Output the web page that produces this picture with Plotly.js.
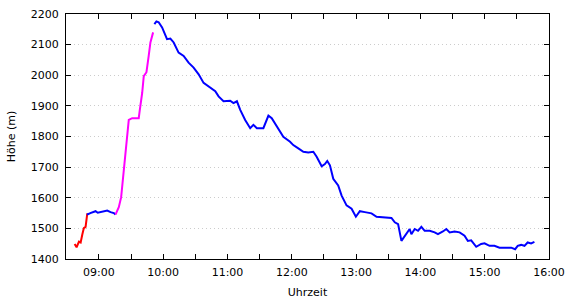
<!DOCTYPE html>
<html>
<head>
<meta charset="utf-8">
<script src="https://cdn.plot.ly/plotly-3.0.1.min.js"></script>
<style>html,body{margin:0;padding:0;background:#fff;}#chart{width:570px;height:300px;}</style>
</head>
<body>
<div id="chart"></div>
<script>
var DAY = "2024-06-01 ";

var redTimes = ["08:37:24","08:39:12","08:41:24","08:43:00","08:44:36","08:46:00","08:47:36","08:48:36","08:49:12"];
var redAlt   = [1449,1438,1457,1454,1481,1501,1505,1542,1549];

var blue1Times = ["08:49:12","08:49:48","08:52:00","08:55:18","08:56:54","08:59:00","09:01:36","09:04:30","09:07:48","09:10:54","09:14:00","09:15:30"];
var blue1Alt   = [1549,1546,1550,1553,1556,1551,1553,1555,1558,1553,1550,1545];

var magentaTimes = ["09:15:30","09:18:36","09:20:48","09:22:42","09:24:48","09:27:00","09:27:54","09:31:06","09:37:12","09:38:12","09:40:24","09:41:54","09:44:24","09:46:30","09:48:06","09:50:36"];
var magentaAlt   = [1545,1569,1602,1668,1745,1821,1854,1860,1860,1887,1942,1997,2010,2063,2107,2140];

var blue2Times = ["09:51:48","09:53:42","09:55:48","09:59:00","10:03:36","10:06:42","10:09:48","10:14:24","10:19:06","10:23:42","10:28:24","10:33:06","10:37:42","10:43:54","10:48:36","10:51:42","10:56:18","11:02:30","11:05:36","11:08:48","11:11:54","11:16:30","11:21:12","11:24:12","11:27:24","11:33:30","11:38:12","11:41:18","11:46:00","11:52:06","11:58:24","12:01:24","12:06:06","12:10:48","12:15:24","12:20:06","12:23:12","12:27:54","12:30:54","12:33:06","12:35:36","12:38:42","12:43:18","12:46:30","12:51:06","12:55:48","12:59:48","13:03:30","13:08:12","13:14:24","13:19:06","13:25:12","13:33:00","13:36:06","13:39:12","13:42:18","13:45:24","13:48:30","13:50:00","13:51:36","13:54:42","13:57:48","14:00:54","14:04:00","14:08:42","14:13:18","14:16:24","14:21:00","14:24:12","14:27:18","14:31:54","14:36:36","14:41:12","14:44:18","14:47:24","14:52:06","14:56:42","14:59:48","15:04:30","15:09:06","15:13:48","15:20:00","15:24:42","15:28:24","15:30:48","15:34:00","15:37:06","15:40:06","15:43:18","15:46:24"];
var blue2Alt   = [2167,2176,2173,2156,2118,2120,2107,2074,2063,2041,2025,2003,1975,1959,1948,1931,1915,1917,1909,1915,1887,1854,1827,1838,1827,1827,1868,1860,1834,1799,1783,1772,1761,1750,1748,1750,1734,1703,1710,1720,1706,1662,1640,1607,1575,1564,1538,1556,1553,1549,1538,1536,1534,1520,1514,1459,1476,1492,1498,1481,1498,1492,1505,1492,1492,1487,1481,1490,1498,1487,1490,1487,1476,1459,1461,1440,1449,1451,1443,1443,1437,1437,1437,1432,1443,1446,1443,1454,1451,1456];

function full(arr){ return arr.map(function(t){ return DAY + t; }); }

var lineW = 2;
var traces = [
  {x: full(redTimes), y: redAlt, mode: "lines", line: {color: "#ff0000", width: lineW}, hoverinfo: "skip"},
  {x: full(blue1Times), y: blue1Alt, mode: "lines", line: {color: "#0000ff", width: lineW}, hoverinfo: "skip"},
  {x: full(magentaTimes), y: magentaAlt, mode: "lines", line: {color: "#ff00ff", width: lineW}, hoverinfo: "skip"},
  {x: full(blue2Times), y: blue2Alt, mode: "lines", line: {color: "#0000ff", width: lineW}, hoverinfo: "skip"}
];

var fnt = {family: "DejaVu Sans, Verdana, sans-serif", size: 11, color: "#000"};

var layout = {
  width: 570, height: 300,
  margin: {l: 66, r: 21, t: 14, b: 41, pad: 0},
  paper_bgcolor: "#fff", plot_bgcolor: "#fff",
  showlegend: false,
  font: fnt,
  xaxis: {
    type: "date",
    range: [DAY + "08:29:20", DAY + "16:00:00"],
    tickformat: "%H:%M",
    tick0: DAY + "09:00:00",
    dtick: 3600000,
    ticks: "inside", ticklen: 5, tickcolor: "#000", tickwidth: 1,
    minor: {dtick: 1800000, tick0: DAY + "09:00:00", ticks: "inside", ticklen: 5, tickcolor: "#000", showgrid: false},
    showline: true, linecolor: "#000", linewidth: 1, mirror: "ticks",
    showgrid: false, zeroline: false,
    tickfont: fnt,
    ticklabelstandoff: 3,
    title: {text: "Uhrzeit", font: fnt, standoff: 10},
    automargin: false
  },
  yaxis: {
    range: [1400, 2200],
    dtick: 100, tick0: 1400,
    ticks: "inside", ticklen: 5, tickcolor: "#000",
    showline: true, linecolor: "#000", linewidth: 1, mirror: "ticks",
    showgrid: true, gridcolor: "#cccccc", griddash: "1px,3px", gridwidth: 1,
    zeroline: false,
    tickfont: fnt,
    ticklabelstandoff: 4,
    title: {text: "Höhe (m)", font: fnt, standoff: 12},
    automargin: false
  }
};

Plotly.newPlot("chart", traces, layout, {displayModeBar: false, staticPlot: true});
</script>
</body>
</html>
